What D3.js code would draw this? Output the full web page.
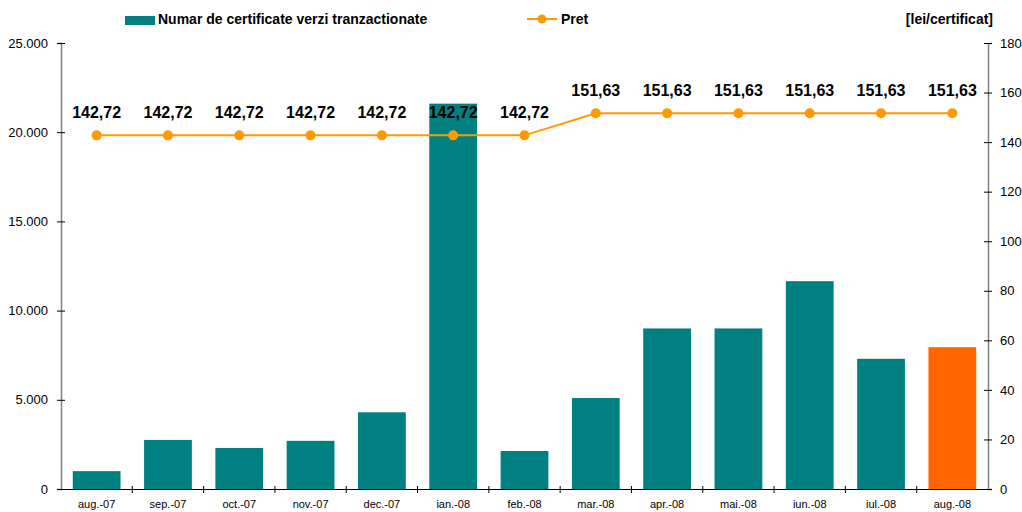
<!DOCTYPE html>
<html><head><meta charset="utf-8">
<script src="https://cdn.jsdelivr.net/npm/d3@7"></script>
<style>body{margin:0;background:#fff;} svg{display:block;font-family:"Liberation Sans",Arial,sans-serif;}</style>
</head><body>
<svg id="c" width="1022" height="512"></svg>
<script>
const categories = ["aug.-07","sep.-07","oct.-07","nov.-07","dec.-07","ian.-08","feb.-08","mar.-08","apr.-08","mai.-08","iun.-08","iul.-08","aug.-08"];
const certificates = [1000, 2750, 2300, 2700, 4300, 21600, 2130, 5100, 9000, 9000, 11650, 7300, 7950];
const prices = [142.72, 142.72, 142.72, 142.72, 142.72, 142.72, 142.72, 151.63, 151.63, 151.63, 151.63, 151.63, 151.63];
const leftTicks = [0, 5000, 10000, 15000, 20000, 25000];
const rightTicks = [0, 20, 40, 60, 80, 100, 120, 140, 160, 180];
const barLabel = "Numar de certificate verzi tranzactionate";
const lineLabel = "Pret";
const unitLabel = "[lei/certificat]";

const svg = d3.select("#c");
const L = 61, R = 988, T = 43, B = 489;
const x = d3.scaleBand().domain(categories).range([L, R]).paddingInner(0.33).paddingOuter(0.165);
const xb = d3.scaleBand().domain(categories).range([L, R]);
const yL = d3.scaleLinear().domain([0, 25000]).range([B, T]);
const yR = d3.scaleLinear().domain([0, 180]).range([B, T]);
const axisCol = "#808080";

// bars
svg.append("g").selectAll("rect").data(categories).join("rect")
  .attr("x", d => x(d)).attr("width", x.bandwidth())
  .attr("y", (d,i) => yL(certificates[i])).attr("height", (d,i) => B - yL(certificates[i]))
  .attr("fill", (d,i) => i === categories.length-1 ? "#FF6600" : "#008080");

// axes
const fmt = d => d === 0 ? "0" : d3.format(",")(d).replace(/,/g, ".");
const gL = svg.append("g").attr("transform", `translate(${L},0)`)
  .call(d3.axisLeft(yL).tickValues(leftTicks).tickFormat(fmt).tickSize(4).tickPadding(9));
const gR = svg.append("g").attr("transform", `translate(${R},0)`)
  .call(d3.axisRight(yR).tickValues(rightTicks).tickSize(4).tickPadding(8));
const gX = svg.append("g").attr("transform", `translate(0,${B})`)
  .call(d3.axisBottom(xb).tickSize(0).tickPadding(11));
[gL, gR, gX].forEach(g => {
  g.select(".domain").attr("stroke", axisCol).attr("stroke-width", 1.5);
  g.selectAll(".tick line").attr("stroke", "#000");
  g.selectAll("text").attr("fill", "#000").attr("font-family", "Liberation Sans, Arial, sans-serif");
});
gL.selectAll(".tick line").attr("x1", 4).attr("x2", -4);
gR.selectAll(".tick line").attr("x1", -4).attr("x2", 4);
gL.selectAll("text").attr("font-size", 13);
gR.selectAll("text").attr("font-size", 13);
gX.selectAll("text").attr("font-size", 11);
gX.select(".domain").attr("stroke", "#000").attr("stroke-width", 1);
// x ticks at band boundaries
const bounds = categories.map(c => xb(c)).concat([R]);
gX.selectAll("line.bt").data(bounds.slice(1, -1)).join("line").attr("class","bt")
  .attr("x1", d => d).attr("x2", d => d).attr("y1", -3).attr("y2", 4).attr("stroke", "#000");

// price line
const cx = d => xb(d) + xb.bandwidth()/2;
const lineCol = "#FF9900";
svg.append("path").datum(categories)
  .attr("d", d3.line().x(cx).y((d,i) => yR(prices[i])))
  .attr("fill", "none").attr("stroke", lineCol).attr("stroke-width", 2);
svg.append("g").selectAll("circle").data(categories).join("circle")
  .attr("cx", cx).attr("cy", (d,i) => yR(prices[i])).attr("r", 5).attr("fill", lineCol);
svg.append("g").selectAll("text").data(categories).join("text")
  .attr("x", cx).attr("y", (d,i) => yR(prices[i]) - 17)
  .attr("text-anchor", "middle").attr("font-size", 16).attr("font-weight", "bold").attr("fill", "#000")
  .text((d,i) => d3.format(".2f")(prices[i]).replace(".", ","));

// legend
svg.append("rect").attr("x", 125).attr("y", 16).attr("width", 30).attr("height", 9).attr("fill", "#008080");
svg.append("text").attr("x", 158).attr("y", 24).attr("font-size", 14).attr("font-weight", "bold").text(barLabel);
svg.append("line").attr("x1", 527).attr("x2", 557).attr("y1", 19).attr("y2", 19).attr("stroke", lineCol).attr("stroke-width", 2);
svg.append("circle").attr("cx", 542).attr("cy", 19).attr("r", 4.5).attr("fill", lineCol);
svg.append("text").attr("x", 561).attr("y", 24).attr("font-size", 14).attr("font-weight", "bold").text(lineLabel);
svg.append("text").attr("x", 993).attr("y", 24).attr("text-anchor", "end").attr("font-size", 14).attr("font-weight", "bold").text(unitLabel);
</script>
</body></html>
